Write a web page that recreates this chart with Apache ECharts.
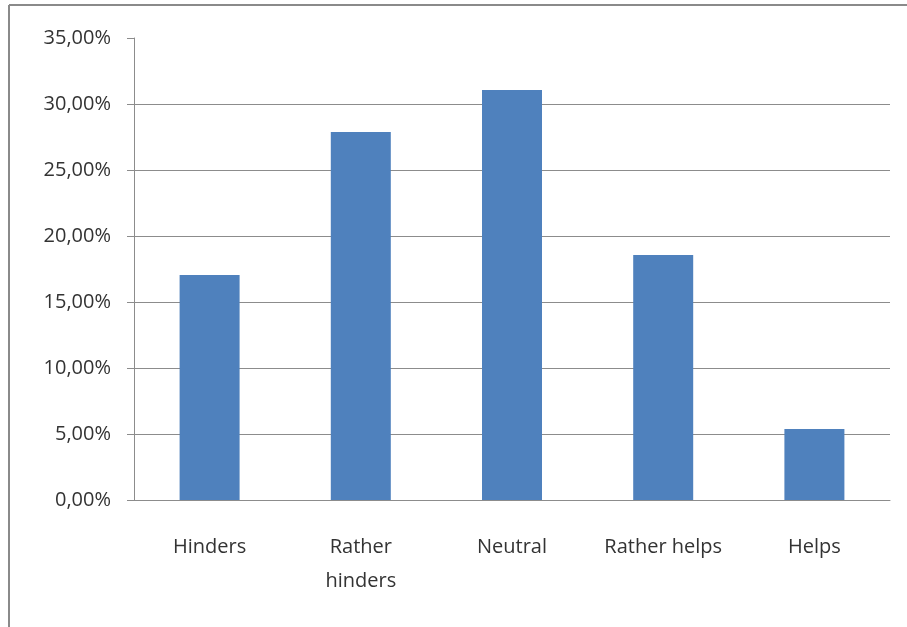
<!DOCTYPE html>
<html>
<head>
<meta charset="utf-8">
<script src="https://cdn.jsdelivr.net/npm/echarts@6/dist/echarts.min.js"></script>
<style>
  html, body { margin: 0; padding: 0; background: #fff; }
  #chart { width: 907px; height: 627px; }
</style>
</head>
<body>
<div id="chart"></div>
<script>
// categories and shares (percent)
const categories = ['Hinders', 'Rather hinders', 'Neutral', 'Rather helps', 'Helps']
const shares = [17.05, 27.88, 31.06, 18.56, 5.38]
const yTicks = [0, 5, 10, 15, 20, 25, 30, 35]

const chart = echarts.init(document.getElementById('chart'))

const gridColor = '#8c8c8c'
// last split line (35%) is not drawn in the original
const splitColors = yTicks.map((t, i) => i === yTicks.length - 1 ? 'rgba(0,0,0,0)' : gridColor)

chart.setOption({
  backgroundColor: '#fff',
  animation: false,
  textStyle: { fontFamily: 'Open Sans', color: '#333' },
  graphic: [
    { type: 'line', shape: { x1: 9, y1: 5, x2: 907, y2: 5 }, style: { stroke: '#8a8a8a', lineWidth: 2 } },
    { type: 'line', shape: { x1: 9, y1: 5, x2: 9, y2: 627 }, style: { stroke: '#8a8a8a', lineWidth: 2 } }
  ],
  grid: { left: 134, right: 17, top: 38, bottom: 127 },
  xAxis: {
    type: 'category',
    data: categories,
    axisLine: { lineStyle: { color: gridColor } },
    axisTick: { length: 8, lineStyle: { color: gridColor } },
    axisLabel: {
      fontSize: 20,
      color: '#333',
      margin: 30,
      lineHeight: 34,
      interval: 0,
      formatter: v => v === 'Rather hinders' ? 'Rather\nhinders' : v
    }
  },
  yAxis: {
    type: 'value',
    min: 0,
    max: 35,
    interval: 5,
    axisLine: { show: true, lineStyle: { color: gridColor } },
    axisTick: { show: true, length: 7, lineStyle: { color: gridColor } },
    axisLabel: {
      fontSize: 20,
      color: '#333',
      margin: 23,
      formatter: v => v.toFixed(2).replace('.', ',') + '%'
    },
    splitLine: { lineStyle: { color: splitColors } }
  },
  series: [{
    type: 'bar',
    data: shares,
    barWidth: 60,
    itemStyle: { color: '#4f81bd' }
  }]
})
</script>
</body>
</html>
